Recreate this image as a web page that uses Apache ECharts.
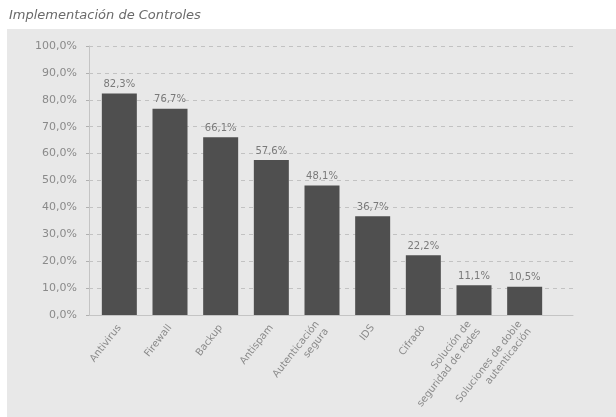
<!DOCTYPE html>
<html>
<head>
<meta charset="utf-8">
<script src="https://cdn.jsdelivr.net/npm/echarts@6/dist/echarts.min.js"></script>
<style>
  html, body { margin: 0; padding: 0; background: #fff; }
  #chart { width: 616px; height: 417px; }
</style>
</head>
<body>
<div id="chart"></div>
<script>
// categorías y porcentajes
var categorias = ['Antivirus', 'Firewall', 'Backup', 'Antispam', 'Autenticación\nsegura', 'IDS', 'Cifrado',
    'Solución de\nseguridad de redes', 'Soluciones de doble\nautenticación'];
var porcentajes = [82.3, 76.7, 66.1, 57.6, 48.1, 36.7, 22.2, 11.1, 10.5];
var ejeY = { min: 0, max: 100, interval: 10 };

function pct(v) {
    return v.toFixed(1).replace('.', ',') + '%';
}

var chart = echarts.init(document.getElementById('chart'));

var gris = '#8a8a8a';
var fuente = 'DejaVu Sans';

var option = {
    animation: false,
    textStyle: { fontFamily: fuente },
    title: {
        text: 'Implementación de Controles',
        left: 4,
        top: 4,
        textStyle: { fontSize: 13, fontStyle: 'italic', fontWeight: 'normal', color: '#6a6a6a', fontFamily: fuente }
    },
    graphic: [{
        type: 'rect',
        z: -10,
        shape: { x: 7, y: 29, width: 609, height: 388 },
        style: { fill: '#e8e8e8' }
    }],
    grid: [
        // rejilla de fondo: eje Y, lineas punteadas y eje X completo
        { left: 89, top: 46, width: 484, height: 269 },
        // rejilla de las barras
        { left: 94, top: 46, width: 456, height: 269 }
    ],
    xAxis: [
        {
            gridIndex: 0, type: 'value', min: 0, max: 1,
            axisLine: { show: true, lineStyle: { color: '#c4c4c4' } },
            axisTick: { show: false }, axisLabel: { show: false }, splitLine: { show: false }
        },
        {
            gridIndex: 1, type: 'category', data: categorias,
            axisLine: { show: false }, axisTick: { show: false },
            axisLabel: { rotate: 52, margin: 11, fontSize: 10, color: gris, lineHeight: 12, interval: 0 }
        }
    ],
    yAxis: [
        {
            gridIndex: 0, type: 'value', min: ejeY.min, max: ejeY.max, interval: ejeY.interval,
            axisLine: { show: true, lineStyle: { color: '#c4c4c4' } },
            axisTick: { show: true, length: 3, lineStyle: { color: '#b0b0b0' } },
            axisLabel: { formatter: pct, fontSize: 11, color: gris, margin: 12 },
            splitLine: { show: true, lineStyle: { type: [4, 4], color: '#c2c2c2' } }
        },
        {
            gridIndex: 1, type: 'value', min: ejeY.min, max: ejeY.max, interval: ejeY.interval,
            show: false
        }
    ],
    series: [{
        type: 'bar',
        xAxisIndex: 1,
        yAxisIndex: 1,
        data: porcentajes,
        barWidth: 35,
        itemStyle: { color: '#4f4f4f' },
        label: {
            show: true,
            position: 'top',
            distance: 4,
            formatter: function (p) { return pct(p.value); },
            fontSize: 10,
            color: '#7a7a7a'
        }
    }]
};

chart.setOption(option);
</script>
</body>
</html>
